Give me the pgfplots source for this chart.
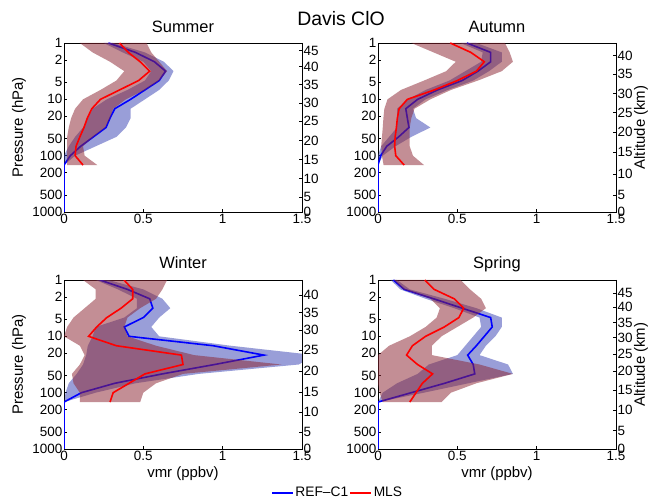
\documentclass[border=0pt]{standalone}
\usepackage{pgfplots}
\pgfplotsset{compat=1.18}
\usepackage{pgfplotstable}
\usepackage{fontspec}
\setmainfont{Liberation Sans}
\definecolor{bandblue}{rgb}{0.2,0.24,0.7}
\definecolor{bandred}{rgb}{0.55,0.15,0.2}

% mean profiles: p = pressure (hPa), bm = REF-C1, rm = MLS (ppbv)
\pgfplotstableread{
p      bm     rm
1      0.28   0.35
1.468  0.45   0.405
2.154  0.57   0.48
3.162  0.64   0.54
4.642  0.60   0.47
6.813  0.51   0.35
10     0.42   0.23
14.68  0.32   0.175
21.54  0.29   0.147
31.62  0.265  0.126
46.42  0.185  0.10
68.13  0.105  0.076
100    0.04   0.07
146.8  0.0    0.12
}\summer
\pgfplotstableread{
p      bm     rm
1      0.56   0.455
1.468  0.71   0.585
2.154  0.71   0.67
3.162  0.63   0.62
4.642  0.53   0.50
6.813  0.375  0.355
10     0.25   0.185
14.68  0.175  0.133
21.54  0.185  0.122
31.62  0.195  0.116
46.42  0.13   0.108
68.13  0.055  0.105
100    0.017  0.112
146.8  0.0    0.165
}\autumn
\pgfplotstableread{
p      bm     rm
1      0.226  0.378
1.468  0.40   0.433
2.154  0.54   0.433
3.162  0.56   0.36
4.642  0.50   0.27
6.813  0.38   0.206
10     0.41   0.155
14.68  0.94   0.33
21.54  1.26   0.74
31.62  0.95   0.75
46.42  0.62   0.51
68.13  0.32   0.41
100    0.11   0.31
146.8  0.0    0.29
}\winter
\pgfplotstableread{
p      bm     rm
1      0.097  0.295
1.468  0.165  0.354
2.154  0.35   0.48
3.162  0.53   0.54
4.642  0.71   0.51
6.813  0.72   0.418
10     0.67   0.30
14.68  0.62   0.217
21.54  0.565  0.18
31.62  0.60   0.249
46.42  0.61   0.344
68.13  0.42   0.28
100    0.21   0.24
146.8  0.0    0.20
}\spring

\newcommand{\tfont}{\fontsize{13.5}{15}\selectfont}
\newcommand{\lfont}{\fontsize{15}{17}\selectfont}

\pgfplotsset{
 every axis/.append style={
  scale only axis, width=238bp, height=169bp,
  xmin=0, xmax=1.5,
  tick align=inside, major tick length=3bp,
  tick style={line width=0.6bp, black},
  axis line style={line width=0.7bp},
  tick label style={font=\tfont},
 },
}

\begin{document}
\begin{tikzpicture}
\useasboundingbox (0,0) rectangle (649bp,499bp);

% ---------------- Summer
\begin{axis}[at={(64bp,287bp)}, anchor=south west,
  ymode=log, ymin=1, ymax=1000, y dir=reverse,
  xtick={0,0.5,1,1.5}, xticklabels={0,0.5,1,1.5},
  ytick={1,2,5,10,20,50,100,200,500,1000},
  yticklabels={1,2,5,10,20,50,100,200,500,1000},
  yminorticks=false, xtick pos=left, ytick pos=left,
  yticklabel style={inner xsep=1.5bp}, xticklabel style={inner ysep=2bp}]
\addplot[fill=bandblue, fill opacity=0.5, draw=none, forget plot] coordinates {(0.25,1) (0.37,1.468) (0.50,2.154) (0.55,3.162) (0.51,4.642) (0.40,6.813) (0.27,10) (0.18,14.68) (0.15,21.54) (0.12,31.62) (0.07,46.42) (0.03,68.13) (0,100) (0,146.8) (0.07,100) (0.20,68.13) (0.33,46.42) (0.39,31.62) (0.42,21.54) (0.42,14.68) (0.51,10) (0.60,6.813) (0.66,4.642) (0.69,3.162) (0.63,2.154) (0.51,1.468) (0.31,1)};
\addplot[blue, line width=1.6bp, forget plot] table[x=bm,y=p]{\summer};
\addplot[blue, line width=1.6bp, forget plot] coordinates {(0,146.8) (0,1000)};
\addplot[fill=bandred, fill opacity=0.52, draw=none, forget plot] coordinates {(0.10,1) (0.18,1.468) (0.29,2.154) (0.38,3.162) (0.33,4.642) (0.23,6.813) (0.12,10) (0.07,14.68) (0.045,21.54) (0.03,31.62) (0.02,46.42) (0.02,68.13) (0.02,100) (0.02,146.8) (0.21,146.8) (0.13,100) (0.12,68.13) (0.185,46.42) (0.26,31.62) (0.29,21.54) (0.31,14.68) (0.39,10) (0.51,6.813) (0.60,4.642) (0.65,3.162) (0.60,2.154) (0.55,1.468) (0.52,1)};
\addplot[red, line width=1.6bp, forget plot] table[x=rm,y=p]{\summer};
\end{axis}
\begin{axis}[at={(64bp,287bp)}, anchor=south west,
  ymode=log, ymin=1, ymax=1000, y dir=reverse,
  axis x line=none, axis y line*=right, yminorticks=false,
  yticklabel style={inner xsep=1.5bp},
  ytick={1.37,2.6,5.5,11.6,24.6,53.8,118,255,540,1000},
  yticklabels={45,40,35,30,25,20,15,10,5,0}]
\end{axis}

% ---------------- Autumn
\begin{axis}[at={(378bp,287bp)}, anchor=south west,
  ymode=log, ymin=1, ymax=1000, y dir=reverse,
  xtick={0,0.5,1,1.5}, xticklabels={0,0.5,1,1.5},
  ytick={1,2,5,10,20,50,100,200,500,1000},
  yticklabels={1,2,5,10,20,50,100,200,500,1000},
  yminorticks=false, xtick pos=left, ytick pos=left,
  yticklabel style={inner xsep=1.5bp}, xticklabel style={inner ysep=2bp}]
\addplot[fill=bandblue, fill opacity=0.5, draw=none, forget plot] coordinates {(0.52,1) (0.66,1.468) (0.65,2.154) (0.55,3.162) (0.45,4.642) (0.30,6.813) (0.19,10) (0.12,14.68) (0.12,21.54) (0.12,31.62) (0.07,46.42) (0.02,68.13) (0,100) (0,146.8) (0.03,100) (0.11,68.13) (0.21,46.42) (0.33,31.62) (0.24,21.54) (0.22,14.68) (0.30,10) (0.44,6.813) (0.60,4.642) (0.70,3.162) (0.78,2.154) (0.78,1.468) (0.62,1)};
\addplot[blue, line width=1.6bp, forget plot] table[x=bm,y=p]{\autumn};
\addplot[blue, line width=1.6bp, forget plot] coordinates {(0,146.8) (0,1000)};
\addplot[fill=bandred, fill opacity=0.52, draw=none, forget plot] coordinates {(0.21,1) (0.35,1.468) (0.49,2.154) (0.43,3.162) (0.29,4.642) (0.145,6.813) (0.06,10) (0.04,14.68) (0.034,21.54) (0.03,31.62) (0.025,46.42) (0.02,68.13) (0.025,100) (0.035,146.8) (0.29,146.8) (0.22,100) (0.20,68.13) (0.20,46.42) (0.20,31.62) (0.21,21.54) (0.23,14.68) (0.33,10) (0.46,6.813) (0.63,4.642) (0.78,3.162) (0.85,2.154) (0.83,1.468) (0.80,1)};
\addplot[red, line width=1.6bp, forget plot] table[x=rm,y=p]{\autumn};
\end{axis}
\begin{axis}[at={(378bp,287bp)}, anchor=south west,
  ymode=log, ymin=1, ymax=1000, y dir=reverse,
  axis x line=none, axis y line*=right, yminorticks=false,
  yticklabel style={inner xsep=1.5bp},
  ytick={1.67,3.6,7.9,17.1,38.5,87,212,500,1000},
  yticklabels={40,35,30,25,20,15,10,5,0}]
\end{axis}

% ---------------- Winter
\begin{axis}[at={(64bp,50bp)}, anchor=south west,
  ymode=log, ymin=1, ymax=1000, y dir=reverse,
  xtick={0,0.5,1,1.5}, xticklabels={0,0.5,1,1.5},
  ytick={1,2,5,10,20,50,100,200,500,1000},
  yticklabels={1,2,5,10,20,50,100,200,500,1000},
  yminorticks=false, xtick pos=left, ytick pos=left,
  yticklabel style={inner xsep=1.5bp}, xticklabel style={inner ysep=2bp},
  legend style={at={(1.149,-0.260)}, anchor=center, draw=none, fill=none,
    legend columns=2, font=\fontsize{13.8}{15}\selectfont, inner sep=0pt,
    nodes={inner xsep=1.5bp, inner ysep=1bp}},
  legend image code/.code={\draw[#1] (0bp,0bp) -- (21bp,0bp);}]
\addplot[fill=bandblue, fill opacity=0.5, draw=none, forget plot] coordinates {(0.20,1) (0.34,1.468) (0.46,2.154) (0.46,3.162) (0.38,4.642) (0.20,6.813) (0.18,10) (0.15,14.68) (0.14,21.54) (0.12,31.62) (0.08,46.42) (0.03,68.13) (0.01,100) (0,146.8) (0.20,100) (0.45,68.13) (0.85,46.42) (1.48,31.62) (1.58,21.54) (1.05,14.68) (0.60,10) (0.55,6.813) (0.60,4.642) (0.67,3.162) (0.62,2.154) (0.50,1.468) (0.28,1)};
\addplot[blue, line width=1.6bp, forget plot] table[x=bm,y=p]{\winter};
\addplot[blue, line width=1.6bp, forget plot] coordinates {(0,146.8) (0,1000)};
\addplot[fill=bandred, fill opacity=0.52, draw=none, forget plot] coordinates {(0.12,1) (0.20,1.468) (0.20,2.154) (0.13,3.162) (0.06,4.642) (0.02,6.813) (0,10) (0.10,14.68) (0.13,21.54) (0.10,31.62) (0.05,46.42) (0.06,68.13) (0.10,100) (0.10,146.8) (0.48,146.8) (0.50,100) (0.58,68.13) (0.75,46.42) (1.37,31.62) (0.82,21.54) (0.58,14.68) (0.40,10) (0.38,6.813) (0.40,4.642) (0.48,3.162) (0.58,2.154) (0.62,1.468) (0.65,1)};
\addplot[red, line width=1.6bp, forget plot] table[x=rm,y=p]{\winter};
\addlegendimage{blue, line width=1.6bp}
\addlegendentry{REF--C1}
\addlegendimage{red, line width=1.6bp}
\addlegendentry{MLS}
\end{axis}
\begin{axis}[at={(64bp,50bp)}, anchor=south west,
  ymode=log, ymin=1, ymax=1000, y dir=reverse,
  axis x line=none, axis y line*=right, yminorticks=false,
  yticklabel style={inner xsep=1.5bp},
  ytick={1.87,3.78,7.7,17.5,41.5,97,222,498,1000},
  yticklabels={40,35,30,25,20,15,10,5,0}]
\end{axis}

% ---------------- Spring
\begin{axis}[at={(378bp,50bp)}, anchor=south west,
  ymode=log, ymin=1, ymax=1000, y dir=reverse,
  xtick={0,0.5,1,1.5}, xticklabels={0,0.5,1,1.5},
  ytick={1,2,5,10,20,50,100,200,500,1000},
  yticklabels={1,2,5,10,20,50,100,200,500,1000},
  yminorticks=false, xtick pos=left, ytick pos=left,
  yticklabel style={inner xsep=1.5bp}, xticklabel style={inner ysep=2bp}]
\addplot[fill=bandblue, fill opacity=0.5, draw=none, forget plot] coordinates {(0.08,1) (0.14,1.468) (0.30,2.154) (0.48,3.162) (0.64,4.642) (0.65,6.813) (0.60,10) (0.55,14.68) (0.50,21.54) (0.32,31.62) (0.25,46.42) (0.12,68.13) (0.03,100) (0,146.8) (0.29,100) (0.57,68.13) (0.85,46.42) (0.82,31.62) (0.64,21.54) (0.68,14.68) (0.74,10) (0.78,6.813) (0.78,4.642) (0.62,3.162) (0.42,2.154) (0.20,1.468) (0.12,1)};
\addplot[blue, line width=1.6bp, forget plot] table[x=bm,y=p]{\spring};
\addplot[blue, line width=1.6bp, forget plot] coordinates {(0,146.8) (0,1000)};
\addplot[fill=bandred, fill opacity=0.52, draw=none, forget plot] coordinates {(0.10,1) (0.16,1.468) (0.33,2.154) (0.39,3.162) (0.37,4.642) (0.30,6.813) (0.20,10) (0.07,14.68) (0,21.54) (0,31.62) (0,46.42) (0,68.13) (0.01,100) (0.03,146.8) (0.40,146.8) (0.46,100) (0.62,68.13) (0.85,46.42) (0.64,31.62) (0.34,21.54) (0.34,14.68) (0.40,10) (0.50,6.813) (0.60,4.642) (0.68,3.162) (0.65,2.154) (0.58,1.468) (0.52,1)};
\addplot[red, line width=1.6bp, forget plot] table[x=rm,y=p]{\spring};
\end{axis}
\begin{axis}[at={(378bp,50bp)}, anchor=south west,
  ymode=log, ymin=1, ymax=1000, y dir=reverse,
  axis x line=none, axis y line*=right, yminorticks=false,
  yticklabel style={inner xsep=1.5bp},
  ytick={1.69,3.03,5.75,10.5,20.7,41,90,205,470,1000},
  yticklabels={45,40,35,30,25,20,15,10,5,0}]
\end{axis}

% ---------------- titles and labels
\node[anchor=base, font=\fontsize{19.5}{21}\selectfont] at (341bp,473bp) {Davis ClO};
\node[anchor=base, font=\fontsize{16.5}{18}\selectfont] at (183bp,466.5bp) {Summer};
\node[anchor=base, font=\fontsize{16.5}{18}\selectfont] at (497bp,466.5bp) {Autumn};
\node[anchor=base, font=\fontsize{16.5}{18}\selectfont] at (183bp,230.7bp) {Winter};
\node[anchor=base, font=\fontsize{16.5}{18}\selectfont] at (497bp,230.7bp) {Spring};
\node[rotate=90, font=\lfont] at (19bp,371.5bp) {Pressure (hPa)};
\node[rotate=90, font=\lfont] at (19bp,134.5bp) {Pressure (hPa)};
\node[rotate=90, font=\lfont] at (641bp,371.5bp) {Altitude (km)};
\node[rotate=90, font=\lfont] at (641bp,134.5bp) {Altitude (km)};
\node[anchor=base, font=\lfont] at (183bp,21.7bp) {vmr (ppbv)};
\node[anchor=base, font=\lfont] at (497bp,21.7bp) {vmr (ppbv)};
\end{tikzpicture}
\end{document}
